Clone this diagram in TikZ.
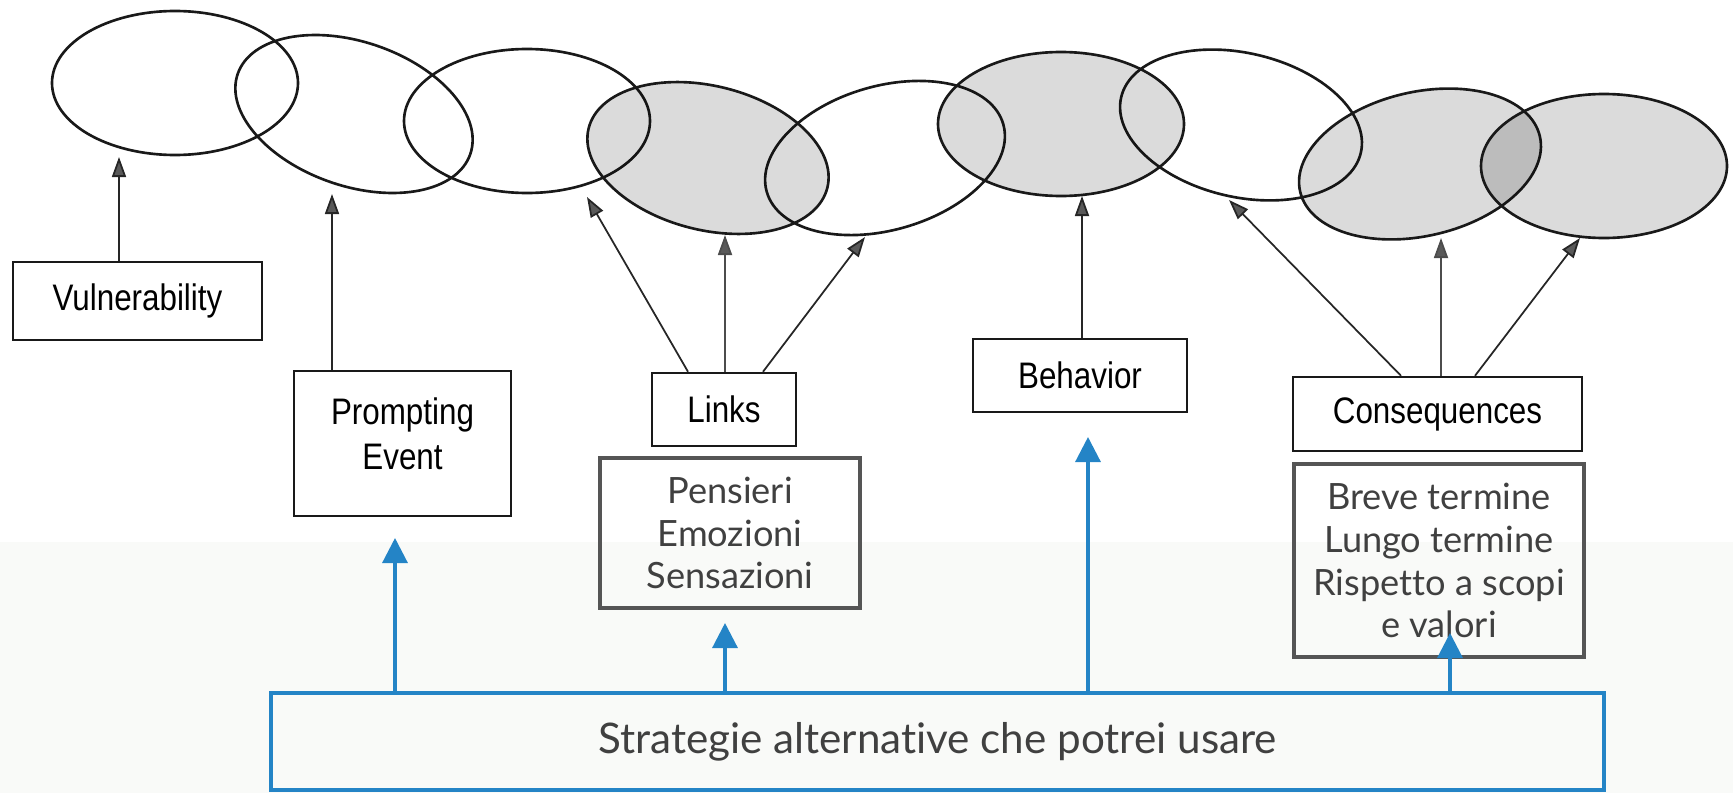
\documentclass[tikz,border=0pt]{standalone}
\usepackage{fontspec}
\newfontfamily\scanfont[FakeStretch=0.85]{Liberation Sans}
\newfontfamily\slidefont[Ligatures=NoCommon]{Lato}
\usetikzlibrary{arrows.meta,shapes.geometric}
\newcommand{\EW}{24.6mm}
\newcommand{\EH}{14.4mm}
\definecolor{slblue}{RGB}{36,132,198}
\definecolor{slgrey}{RGB}{85,85,85}
\definecolor{sltext}{RGB}{64,64,64}
\definecolor{slpale}{RGB}{249,250,248}

\begin{document}
\begin{tikzpicture}[
    x=0.1mm, y=-0.1mm,
    arr/.style={-{Triangle[length=2mm,width=1.4mm,fill=black!65]}, draw=black!85, line width=0.5pt},
    barr/.style={-{Triangle[length=2.5mm,width=2.5mm]}, draw=slblue, line width=0.9pt},
    O/.style={ellipse, draw=black!90, line width=0.75pt, minimum width=\EW, minimum height=\EH, inner sep=0pt},
    G/.style={O, fill=black, fill opacity=0.14},
    sbox/.style={draw=black!90, line width=0.7pt, inner sep=0pt, align=center,
                 font=\scanfont\fontsize{10.5}{12.8}\selectfont, text=black},
    pbox/.style={draw=slgrey, line width=0.9pt, inner sep=0pt, align=center,
                 font=\slidefont\fontsize{10.3}{12.2}\selectfont, text=sltext},
    abox/.style={draw=slblue, line width=0.9pt, inner sep=0pt,
                 font=\slidefont\fontsize{12}{14}\selectfont, text=sltext},
  ]
  \useasboundingbox (0,0) rectangle (1733,793);
  \fill[slpale] (0,542) rectangle (1733,793);

  %% chain of ellipses (grey ones are shaded, overlaps get darker)
  \foreach \k/\cx/\cy/\rot in {1/175/83/0, 2/354/114/-19, 3/527/121/0, 5/885/158/16, 7/1241/125/-13}
    { \node[O, rotate=\rot] (e\k) at (\cx,\cy) {}; }
  \foreach \k/\cx/\cy/\rot in {4/708/158/-14, 6/1061/124/0, 8/1420/164/13, 9/1604/166/0}
    { \node[G, rotate=\rot] (e\k) at (\cx,\cy) {}; }

  %% boxes of the original scheme
  \node[sbox, minimum width=24.9mm, minimum height=7.8mm] (vuln) at (137.5,301) {Vulnerability};
  \node[sbox, minimum width=21.7mm, minimum height=14.5mm] (prompt) at (402.5,443.5) {Prompting\\Event\\[-7pt]\mbox{}};
  \node[sbox, minimum width=14.4mm, minimum height=7.3mm] (links) at (724,409.5) {Links};
  \node[sbox, minimum width=21.4mm, minimum height=7.3mm] (behav) at (1080,375.5) {Behavior};
  \node[sbox, minimum width=28.9mm, minimum height=7.4mm] (conseq) at (1437.5,414) {Consequences};

  % arrow tips below the ellipses
  \coordinate (t1) at (119,157);
  \coordinate (t2) at (332,194);
  \coordinate (t3) at (587,197);
  \coordinate (t4) at (725,235);
  \coordinate (t5) at (865,237);
  \coordinate (t6) at (1082,196);
  \coordinate (t7) at (1229,200);
  \coordinate (t8) at (1441,238);
  \coordinate (t9) at (1580,238);

  \draw[arr] (t1 |- vuln.north) -- (t1);
  \draw[arr] (t2 |- prompt.north) -- (t2);
  \draw[arr] ([xshift=-3.6mm]links.north) -- (t3);
  \draw[arr, draw=black!70] (t4 |- links.north) -- (t4);
  \draw[arr] ([xshift=3.9mm]links.north) -- (t5);
  \draw[arr] (t6 |- behav.north) -- (t6);
  \draw[arr] ([xshift=-3.65mm]conseq.north) -- (t7);
  \draw[arr, draw=black!70] (t8 |- conseq.north) -- (t8);
  \draw[arr] ([xshift=3.75mm]conseq.north) -- (t9);

  %% added boxes
  \node[pbox, minimum width=26mm, minimum height=15mm] (links2) at (730,533) {Pensieri\\Emozioni\\Sensazioni};
  \node[pbox, minimum width=29mm, minimum height=19.3mm] (conseq2) at (1439,560.5)
    {Breve termine\\Lungo termine\\Rispetto a scopi\\e valori};
  \node[abox, minimum width=133.3mm, minimum height=9.7mm] (alt) at (937.5,741.5)
    {Strategie alternative che potrei usare};

  % blue arrows from the strategies box
  \coordinate (b1) at (395,538);
  \coordinate (b2) at (725,623);
  \coordinate (b3) at (1088,437);
  \coordinate (b4) at (1450,633);
  \foreach \b in {b1,b2,b3,b4} { \draw[barr] (\b |- alt.north) -- (\b); }

\end{tikzpicture}
\end{document}
